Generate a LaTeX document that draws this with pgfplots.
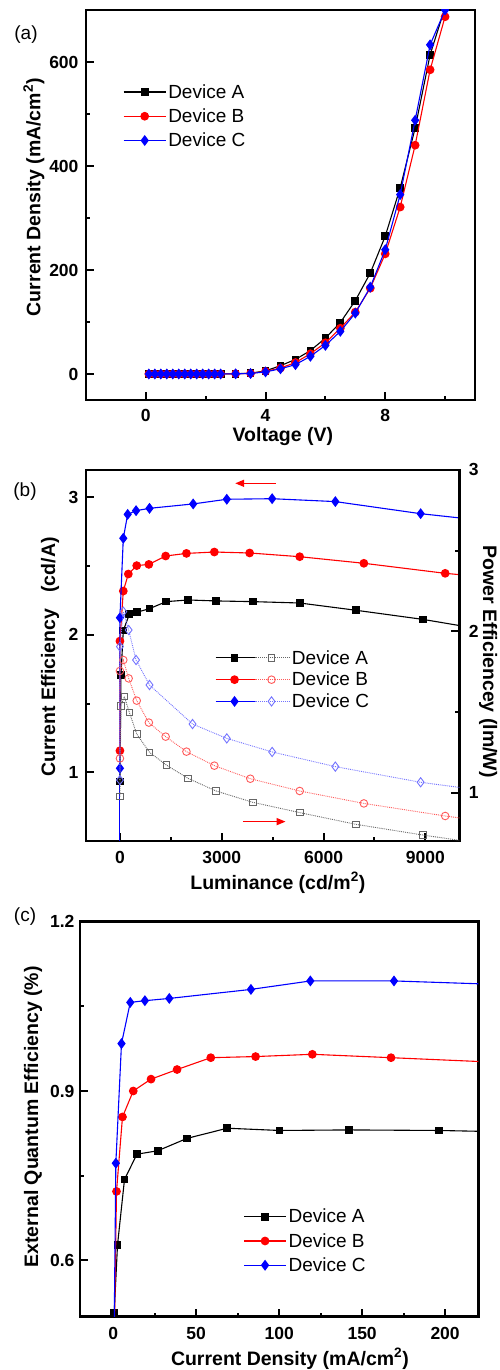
\documentclass[border=0pt]{standalone}
\usepackage{fontspec}
\setmainfont{Liberation Sans}
\usepackage{pgfplots}
\pgfplotsset{compat=1.18}
\usetikzlibrary{arrows.meta}

% series styles (tikz so that legend code can use them too)
\tikzset{
  sA/.style={black, line width=1.1pt, mark=square*, mark size=3.3pt, mark options={solid}},
  sB/.style={red, line width=1.1pt, mark=*, mark size=3.8pt, mark options={solid}},
  sC/.style={blue, line width=1.1pt, mark=diamond*, mark size=4.6pt, mark options={solid}},
  oA/.style={black!60, line width=0.9pt, densely dotted, mark=square, mark size=3.3pt, mark options={solid, fill=white, line width=0.9pt}},
  oB/.style={red!65, line width=0.9pt, densely dotted, mark=o, mark size=3.8pt, mark options={solid, fill=white, line width=0.9pt}},
  oC/.style={blue!55, line width=0.9pt, densely dotted, mark=diamond, mark size=4.6pt, mark options={solid, fill=white, line width=0.9pt}},
}

\pgfplotsset{
  panel/.style={
    scale only axis, clip marker paths=true,
    axis line style={line width=2.4pt},
    tick align=inside, tick pos=left,
    major tick length=8pt, minor tick length=4pt,
    every tick/.style={line width=2pt, black},
    tick label style={font=\fontsize{17.5}{20}\selectfont\bfseries},
    label style={font=\fontsize{19.5}{23}\selectfont\bfseries},
    /pgf/number format/assume math mode=true,
    /pgf/number format/1000 sep={},
    scaled ticks=false,
    xticklabel style={yshift=-7pt},
    legend cell align=left,
    legend style={draw=none, fill=none, font=\fontsize{19}{22}\selectfont, inner sep=0pt, row sep=5pt},
    legend image code/.code={\draw[mark repeat=2,mark phase=2,##1] plot coordinates {(0pt,0pt) (21pt,0pt) (42pt,0pt)};},
  },
}

\begin{document}
\begin{tikzpicture}
\useasboundingbox (0pt,0pt) rectangle (500pt,1370pt);

% ---------------- (a) J-V ----------------
\begin{axis}[panel,
  at={(86pt,970pt)}, anchor=south west, width=389pt, height=390pt,
  xmin=-2, xmax=11, ymin=-50, ymax=700,
  xtick={0,4,8}, minor xtick={2,6,10},
  ytick={0,200,400,600}, minor ytick={100,300,500},
  xticklabel style={yshift=1.5pt},
  yticklabel style={xshift=-4pt},
  xlabel={Voltage (V)}, ylabel={Current Density (mA/cm\textsuperscript{2})},
  xlabel style={at={(axis description cs:0.506,-0.093)}, anchor=center},
  ylabel style={at={(axis description cs:-0.134,0.52)}, anchor=center},
  legend style={at={(axis description cs:0.095,0.815)}, anchor=north west},
]
\addplot[sA] coordinates {
 (0.1,0) (0.3,0) (0.5,0) (0.7,0) (0.9,0) (1.1,0) (1.3,0) (1.5,0) (1.7,0) (1.9,0) (2.1,0) (2.3,0) (2.5,0)
 (3.0,0.5) (3.5,1.5) (4.0,6) (4.5,16) (5.0,28) (5.5,45) (6.0,69) (6.5,99) (7.0,141) (7.5,194)
 (8.0,265) (8.5,358) (9.0,473) (9.5,614) (10.0,705)};
\addlegendentry{Device A}
\addplot[sB] coordinates {
 (0.1,0) (0.3,0) (0.5,0) (0.7,0) (0.9,0) (1.1,0) (1.3,0) (1.5,0) (1.7,0) (1.9,0) (2.1,0) (2.3,0) (2.5,0)
 (3.0,0.4) (3.5,1.2) (4.0,5) (4.5,11.5) (5.0,22) (5.5,39) (6.0,60) (6.5,88) (7.0,119) (7.5,165)
 (8.0,231) (8.5,321) (9.0,440) (9.5,585) (10.0,687)};
\addlegendentry{Device B}
\addplot[sC] coordinates {
 (0.1,0) (0.3,0) (0.5,0) (0.7,0) (0.9,0) (1.1,0) (1.3,0) (1.5,0) (1.7,0) (1.9,0) (2.1,0) (2.3,0) (2.5,0)
 (3.0,0.3) (3.5,1) (4.0,4) (4.5,10) (5.0,18) (5.5,34) (6.0,55) (6.5,82) (7.0,117) (7.5,167)
 (8.0,239) (8.5,345) (9.0,488) (9.5,633) (10.0,700)};
\addlegendentry{Device C}
\end{axis}

% ---------------- (b) efficiencies vs luminance ----------------
\begin{axis}[panel,
  at={(86pt,529pt)}, anchor=south west, width=373.3pt, height=371pt,
  xmin=-1000, xmax=10000, ymin=0.5, ymax=3.2,
  xtick={0,3000,6000,9000}, minor xtick={1500,4500,7500},
  ytick={1,2,3}, minor ytick={1.5,2.5},
  yticklabel style={xshift=-4pt},
  xlabel={Luminance (cd/m\textsuperscript{2})}, ylabel={Current Efficiency\ \ \ (cd/A)},
  xlabel style={at={(axis description cs:0.514,-0.112)}, anchor=center},
  ylabel style={at={(axis description cs:-0.096,0.496)}, anchor=center},
  legend style={at={(axis description cs:0.345,0.52)}, anchor=north west, row sep=2.5pt},
]
\addplot[blue, line width=1.1pt, forget plot] coordinates {(0,0.2) (0,1.029)};
\addplot[sA, forget plot] coordinates {
 (0,0.932) (30,1.708) (99,2.031) (277,2.150) (495,2.164) (871,2.191) (1366,2.242) (2010,2.254)
 (2832,2.247) (3911,2.242) (5297,2.232) (6960,2.179) (8921,2.113) (10800,2.035)};
\addplot[sB, forget plot] coordinates {
 (0,1.157) (0,1.955) (99,2.319) (248,2.443) (495,2.504) (852,2.513) (1347,2.574) (1960,2.593)
 (2782,2.603) (3822,2.596) (5297,2.569) (7188,2.521) (9584,2.448) (10800,2.42)};
\addplot[sC, forget plot] coordinates {
 (0,1.029) (0,2.125) (99,2.703) (228,2.877) (475,2.904) (871,2.921) (2158,2.953) (3149,2.987)
 (4485,2.991) (6347,2.970) (8861,2.882) (10800,2.83)};
\addlegendimage{legend image code/.code={
  \draw[sA, mark repeat=2, mark phase=2] plot coordinates {(0pt,0pt) (19pt,0pt) (39pt,0pt)};
  \draw[oA, mark repeat=2, mark phase=2] plot coordinates {(39pt,0pt) (56pt,0pt) (74pt,0pt)};}}
\addlegendentry{Device A}
\addlegendimage{legend image code/.code={
  \draw[sB, mark repeat=2, mark phase=2] plot coordinates {(0pt,0pt) (19pt,0pt) (39pt,0pt)};
  \draw[oB, mark repeat=2, mark phase=2] plot coordinates {(39pt,0pt) (56pt,0pt) (74pt,0pt)};}}
\addlegendentry{Device B}
\addlegendimage{legend image code/.code={
  \draw[sC, mark repeat=2, mark phase=2] plot coordinates {(0pt,0pt) (19pt,0pt) (39pt,0pt)};
  \draw[oC, mark repeat=2, mark phase=2] plot coordinates {(39pt,0pt) (56pt,0pt) (74pt,0pt)};}}
\addlegendentry{Device C}
\draw[red, line width=1.6pt, -{Triangle[length=9pt,width=7pt]}] (axis cs:4584,3.103) -- (axis cs:3396,3.103);
\draw[red, line width=1.6pt, -{Triangle[length=9pt,width=7pt]}] (axis cs:3624,0.641) -- (axis cs:4881,0.641);
\end{axis}

\begin{axis}[panel,
  at={(86pt,529pt)}, anchor=south west, width=373.3pt, height=371pt,
  xmin=-1000, xmax=10000, ymin=0.7, ymax=3.0,
  axis y line*=right, axis x line=none,
  ytick pos=right, yticklabel pos=right,
  ytick={1,2,3}, minor ytick={1.5,2.5},
  yticklabel style={xshift=6pt},
  ylabel={Power Efficiencey (lm/W)},
  ylabel style={at={(axis description cs:1.077,0.483)}, anchor=center, rotate=180},
]
\addplot[oA] coordinates {
 (0,0.975) (30,1.539) (129,1.595) (277,1.498) (495,1.363) (871,1.250) (1366,1.171) (2010,1.088)
 (2832,1.010) (3911,0.940) (5297,0.876) (6960,0.803) (8921,0.737) (10800,0.68)};
\addplot[oB] coordinates {
 (0,1.212) (0,1.754) (99,1.822) (257,1.708) (495,1.570) (852,1.434) (1347,1.347) (1960,1.254)
 (2782,1.167) (3842,1.086) (5297,1.010) (7188,0.933) (9584,0.855) (10800,0.82)};
\addplot[oC] coordinates {
 (0,1.078) (0,1.905) (99,2.122) (257,2.008) (475,1.822) (871,1.667) (2139,1.425) (3149,1.336)
 (4485,1.252) (6347,1.161) (8861,1.064) (10800,1.01)};
\end{axis}

% ---------------- (c) EQE ----------------
\begin{axis}[panel,
  at={(80pt,53.3pt)}, anchor=south west, width=398.3pt, height=395pt,
  xmin=-20, xmax=220, ymin=0.5, ymax=1.2,
  xtick={0,50,100,150,200}, minor xtick={25,75,125,175},
  ytick={0.6,0.9,1.2}, yticklabels={0.6,0.9,1.2}, minor ytick={0.75,1.05},
  yticklabel style={xshift=-2pt},
  xlabel={Current Density (mA/cm\textsuperscript{2})}, ylabel={External Quantum Efficiency (\%)},
  xlabel style={at={(axis description cs:0.527,-0.107)}, anchor=center},
  ylabel style={at={(axis description cs:-0.118,0.506)}, anchor=center},
  legend style={at={(axis description cs:0.41,0.278)}, anchor=north west},
]
\addplot[sA] coordinates {
 (0.6,0.507) (2.6,0.627) (6.8,0.743) (14.3,0.788) (26.8,0.794) (44.5,0.816) (68.7,0.834)
 (100.3,0.830) (142.0,0.831) (196.4,0.830) (230,0.828)};
\addlegendentry{Device A}
\addplot[red, line width=1.1pt, forget plot] coordinates {(0.6,0.45) (2.0,0.722)};
\addplot[sB] coordinates {
 (2.0,0.722) (5.6,0.854) (12.1,0.900) (22.8,0.921) (38.5,0.938) (58.8,0.959) (85.8,0.961)
 (120.0,0.965) (167.4,0.959) (230,0.951)};
\addlegendentry{Device B}
\addplot[blue, line width=1.1pt, forget plot] coordinates {(0.5,0.45) (1.6,0.772)};
\addplot[sC] coordinates {
 (1.6,0.772) (5.0,0.984) (10.3,1.057) (19.1,1.060) (33.8,1.064) (83.0,1.080) (118.8,1.095)
 (169.2,1.095) (230,1.089)};
\addlegendentry{Device C}
\end{axis}

% panel letters
\node[font=\fontsize{19}{22}\selectfont] at (26pt,1335pt) {(a)};
\node[font=\fontsize{19}{22}\selectfont] at (25pt,878pt) {(b)};
\node[font=\fontsize{19}{22}\selectfont] at (25pt,453pt) {(c)};
\end{tikzpicture}
\end{document}
